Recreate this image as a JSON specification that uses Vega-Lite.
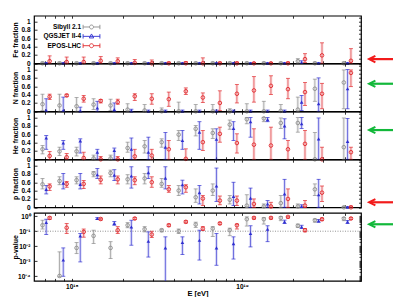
{
"$schema": "https://vega.github.io/schema/vega-lite/v6.json",
"background": "white",
"padding": {"left": 10, "top": 14.7, "right": 2, "bottom": 2},
"spacing": 0.2,
"bounds": "full",
"config": {
  "font": "Liberation Sans",
  "view": {"stroke": "black", "strokeWidth": 1.2},
  "axis": {"domain": false, "grid": false, "tickColor": "black", "tickWidth": 0.8, "labelFont": "Liberation Sans", "labelFontSize": 6.5, "labelFontWeight": "bold", "labelColor": "black", "titleFont": "Liberation Sans", "titleFontSize": 7, "titleFontWeight": "bold", "titleColor": "black"}
},
"data": {"values": [
{"m":"Sibyll 2.1","E":6.73e17,"fe":0,"feLo":0,"feHi":0.03,"n":0.17,"nLo":0.02,"nHi":0.41,"he":0.24,"heLo":0.13,"heHi":0.33,"p":0.55,"pLo":0.44,"pHi":0.69,"pv":0.25,"pvLo":0.14,"pvHi":0.54},
{"m":"Sibyll 2.1","E":8.472e17,"fe":0,"feLo":0,"feHi":0.03,"n":0.14,"nLo":0,"nHi":0.41,"he":0.19,"heLo":0.09,"heHi":0.29,"p":0.63,"pLo":0.54,"pHi":0.73,"pv":0.000105,"pvLo":0.00009,"pvHi":0.0042},
{"m":"Sibyll 2.1","E":1.067e18,"fe":0,"feLo":0,"feHi":0.03,"n":0.12,"nLo":0,"nHi":0.33,"he":0.19,"heLo":0.08,"heHi":0.29,"p":0.65,"pLo":0.56,"pHi":0.73,"pv":0.0077,"pvLo":0.0032,"pvHi":0.0177},
{"m":"Sibyll 2.1","E":1.343e18,"fe":0,"feLo":0,"feHi":0.03,"n":0.16,"nLo":0.04,"nHi":0.30,"he":0.02,"heLo":0,"heHi":0.1,"p":0.81,"pLo":0.73,"pHi":0.86,"pv":0.049,"pvLo":0.015,"pvHi":0.117},
{"m":"Sibyll 2.1","E":1.69e18,"fe":0,"feLo":0,"feHi":0.03,"n":0.14,"nLo":0.02,"nHi":0.29,"he":0.02,"heLo":0,"heHi":0.1,"p":0.82,"pLo":0.73,"pHi":0.89,"pv":0.0077,"pvLo":0.0015,"pvHi":0.02},
{"m":"Sibyll 2.1","E":2.128e18,"fe":0,"feLo":0,"feHi":0.03,"n":0.04,"nLo":0,"nHi":0.18,"he":0.27,"heLo":0.17,"heHi":0.41,"p":0.67,"pLo":0.56,"pHi":0.78,"pv":0.25,"pvLo":0.17,"pvHi":0.37},
{"m":"Sibyll 2.1","E":2.679e18,"fe":0,"feLo":0,"feHi":0.03,"n":0.02,"nLo":0,"nHi":0.16,"he":0.31,"heLo":0.15,"heHi":0.45,"p":0.69,"pLo":0.56,"pHi":0.81,"pv":0.136,"pvLo":0.09,"pvHi":0.2},
{"m":"Sibyll 2.1","E":3.373e18,"fe":0,"feLo":0,"feHi":0.03,"n":0,"nLo":0,"nHi":0.08,"he":0.41,"heLo":0.29,"heHi":0.49,"p":0.56,"pLo":0.48,"pHi":0.69,"pv":0.117,"pvLo":0.09,"pvHi":0.14},
{"m":"Sibyll 2.1","E":4.246e18,"fe":0,"feLo":0,"feHi":0.03,"n":0,"nLo":0,"nHi":0.22,"he":0.59,"heLo":0.45,"heHi":0.69,"p":0.40,"pLo":0.28,"pHi":0.52,"pv":0.1,"pvLo":0.07,"pvHi":0.14},
{"m":"Sibyll 2.1","E":5.346e18,"fe":0,"feLo":0,"feHi":0.03,"n":0,"nLo":0,"nHi":0.16,"he":0.73,"heLo":0.56,"heHi":0.81,"p":0.24,"pLo":0.12,"pHi":0.44,"pv":0.28,"pvLo":0.18,"pvHi":0.4},
{"m":"Sibyll 2.1","E":6.73e18,"fe":0,"feLo":0,"feHi":0.03,"n":0,"nLo":0,"nHi":0.16,"he":0.63,"heLo":0.5,"heHi":0.73,"p":0.4,"pLo":0.28,"pHi":0.56,"pv":0.15,"pvLo":0.045,"pvHi":0.2},
{"m":"Sibyll 2.1","E":8.472e18,"fe":0,"feLo":0,"feHi":0.03,"n":0,"nLo":0,"nHi":0.06,"he":0.83,"heLo":0.72,"heHi":0.94,"p":0.18,"pLo":0.08,"pHi":0.28,"pv":0.117,"pvLo":0.05,"pvHi":0.16},
{"m":"Sibyll 2.1","E":1.067e19,"fe":0,"feLo":0,"feHi":0.03,"n":0,"nLo":0,"nHi":0.18,"he":0.96,"heLo":0.85,"heHi":1,"p":0.04,"pLo":0,"pHi":0.3,"pv":0.63,"pvLo":0.22,"pvHi":0.9},
{"m":"Sibyll 2.1","E":1.343e19,"fe":0,"feLo":0,"feHi":0.03,"n":0,"nLo":0,"nHi":0.24,"he":0.98,"heLo":0.9,"heHi":1,"p":0.02,"pLo":0,"pHi":0.08,"pv":0.63,"pvLo":0.3,"pvHi":0.8},
{"m":"Sibyll 2.1","E":1.69e19,"fe":0,"feLo":0,"feHi":0.03,"n":0.01,"nLo":0,"nHi":0.16,"he":0.87,"heLo":0.74,"heHi":0.99,"p":0.1,"pLo":0,"pHi":0.28,"pv":0.77,"pvLo":0.5,"pvHi":0.95},
{"m":"Sibyll 2.1","E":2.128e19,"fe":0.05,"feLo":0,"feHi":0.11,"n":0.04,"nLo":0,"nHi":0.34,"he":0.87,"heLo":0.65,"heHi":1,"p":0.02,"pLo":0,"pHi":0.08,"pv":0.23,"pvLo":0.18,"pvHi":0.3},
{"m":"Sibyll 2.1","E":2.679e19,"fe":0,"feLo":0,"feHi":0.03,"n":0.54,"nLo":0.24,"nHi":0.77,"he":0,"heLo":0,"heHi":0.64,"p":0.43,"pLo":0.28,"pHi":0.56,"pv":0.54,"pvLo":0.4,"pvHi":0.65},
{"m":"Sibyll 2.1","E":3.963e19,"fe":0,"feLo":0,"feHi":0.03,"n":0.69,"nLo":0.06,"nHi":0.99,"he":0.29,"heLo":0,"heHi":0.99,"p":0,"pLo":0,"pHi":0.02,"pv":0.7,"pvLo":0.5,"pvHi":0.8},
{"m":"QGSJET II-4","E":7.079e17,"fe":0,"feLo":0,"feHi":0.02,"n":0.02,"nLo":0,"nHi":0.3,"he":0.51,"heLo":0.24,"heHi":0.57,"p":0.43,"pLo":0.32,"pHi":0.52,"pv":0.38,"pvLo":0.06,"pvHi":0.63},
{"m":"QGSJET II-4","E":8.913e17,"fe":0,"feLo":0,"feHi":0.02,"n":0.02,"nLo":0,"nHi":0.34,"he":0.39,"heLo":0.24,"heHi":0.45,"p":0.58,"pLo":0.44,"pHi":0.81,"pv":0.0012,"pvLo":0.0001,"pvHi":0.0077},
{"m":"QGSJET II-4","E":1.122e18,"fe":0,"feLo":0,"feHi":0.02,"n":0.01,"nLo":0,"nHi":0.1,"he":0.44,"heLo":0.15,"heHi":0.49,"p":0.55,"pLo":0.44,"pHi":0.81,"pv":0.049,"pvLo":0.0009,"pvHi":0.07},
{"m":"QGSJET II-4","E":1.413e18,"fe":0,"feLo":0,"feHi":0.02,"n":0.08,"nLo":0,"nHi":0.24,"he":0.17,"heLo":0,"heHi":0.24,"p":0.78,"pLo":0.69,"pHi":0.93,"pv":0.7,"pvLo":0.6,"pvHi":0.8},
{"m":"QGSJET II-4","E":1.778e18,"fe":0,"feLo":0,"feHi":0.02,"n":0.04,"nLo":0,"nHi":0.2,"he":0.21,"heLo":0,"heHi":0.27,"p":0.77,"pLo":0.64,"pHi":0.9,"pv":0.33,"pvLo":0.25,"pvHi":0.45},
{"m":"QGSJET II-4","E":2.239e18,"fe":0,"feLo":0,"feHi":0.02,"n":0.01,"nLo":0,"nHi":0.05,"he":0.24,"heLo":0,"heHi":0.51,"p":0.75,"pLo":0.46,"pHi":0.97,"pv":0.19,"pvLo":0.0117,"pvHi":0.54},
{"m":"QGSJET II-4","E":2.818e18,"fe":0,"feLo":0,"feHi":0.02,"n":0,"nLo":0,"nHi":0.03,"he":0.17,"heLo":0,"heHi":0.53,"p":0.83,"pLo":0.69,"pHi":0.97,"pv":0.0215,"pvLo":0.0019,"pvHi":0.09},
{"m":"QGSJET II-4","E":3.548e18,"fe":0,"feLo":0,"feHi":0.02,"n":0,"nLo":0,"nHi":0.03,"he":0.29,"heLo":0,"heHi":0.64,"p":0.7,"pLo":0.44,"pHi":0.97,"pv":0.0077,"pvLo":0.00001,"pvHi":0.042},
{"m":"QGSJET II-4","E":4.467e18,"fe":0,"feLo":0,"feHi":0.02,"n":0,"nLo":0,"nHi":0.03,"he":0.45,"heLo":0.24,"heHi":0.69,"p":0.54,"pLo":0.32,"pHi":0.65,"pv":0.0177,"pvLo":0.0028,"pvHi":0.042},
{"m":"QGSJET II-4","E":5.623e18,"fe":0,"feLo":0,"feHi":0.02,"n":0,"nLo":0,"nHi":0.03,"he":0.65,"heLo":0.24,"heHi":0.9,"p":0.35,"pLo":0.08,"pHi":0.52,"pv":0.025,"pvLo":0.0012,"pvHi":0.117},
{"m":"QGSJET II-4","E":7.079e18,"fe":0,"feLo":0,"feHi":0.02,"n":0,"nLo":0,"nHi":0.03,"he":0.48,"heLo":0,"heHi":0.73,"p":0.51,"pLo":0.14,"pHi":0.94,"pv":0.0077,"pvLo":0.00054,"pvHi":0.07},
{"m":"QGSJET II-4","E":8.913e18,"fe":0,"feLo":0,"feHi":0.02,"n":0,"nLo":0,"nHi":0.03,"he":0.74,"heLo":0.45,"heHi":0.9,"p":0.26,"pLo":0.04,"pHi":0.6,"pv":0.015,"pvLo":0.0014,"pvHi":0.042},
{"m":"QGSJET II-4","E":1.122e19,"fe":0,"feLo":0,"feHi":0.02,"n":0,"nLo":0,"nHi":0.03,"he":0.9,"heLo":0.53,"heHi":1,"p":0.22,"pLo":0,"pHi":0.46,"pv":0.07,"pvLo":0.009,"pvHi":0.23},
{"m":"QGSJET II-4","E":1.413e19,"fe":0,"feLo":0,"feHi":0.02,"n":0,"nLo":0,"nHi":0.03,"he":0.95,"heLo":0.9,"heHi":1,"p":0.08,"pLo":0,"pHi":0.16,"pv":0.136,"pvLo":0.02,"pvHi":0.23},
{"m":"QGSJET II-4","E":1.778e19,"fe":0,"feLo":0,"feHi":0.02,"n":0,"nLo":0,"nHi":0.03,"he":0.8,"heLo":0.49,"heHi":0.97,"p":0.32,"pLo":0,"pHi":0.67,"pv":0.42,"pvLo":0.33,"pvHi":0.55},
{"m":"QGSJET II-4","E":2.239e19,"fe":0.02,"feLo":0,"feHi":0.06,"n":0.22,"nLo":0.02,"nHi":0.38,"he":0.85,"heLo":0.74,"heHi":1,"p":0.02,"pLo":0,"pHi":0.06,"pv":0.19,"pvLo":0.15,"pvHi":0.25},
{"m":"QGSJET II-4","E":2.818e19,"fe":0,"feLo":0,"feHi":0.02,"n":0.18,"nLo":0,"nHi":0.8,"he":0.49,"heLo":0,"heHi":0.99,"p":0.3,"pLo":0,"pHi":0.67,"pv":0.49,"pvLo":0.4,"pvHi":0.6},
{"m":"QGSJET II-4","E":4.169e19,"fe":0,"feLo":0,"feHi":0.02,"n":0.54,"nLo":0.06,"nHi":1,"he":0.43,"heLo":0,"heHi":0.98,"p":0,"pLo":0,"pHi":0.02,"pv":0.42,"pvLo":0.33,"pvHi":0.52},
{"m":"EPOS-LHC","E":7.413e17,"fe":0.05,"feLo":0,"feHi":0.18,"n":0.35,"nLo":0.28,"nHi":0.41,"he":0.08,"heLo":0,"heHi":0.19,"p":0.5,"pLo":0.4,"pHi":0.56,"pv":0.77,"pvLo":0.6,"pvHi":0.9},
{"m":"EPOS-LHC","E":9.333e17,"fe":0.03,"feLo":0,"feHi":0.15,"n":0.38,"nLo":0.35,"nHi":0.41,"he":0.05,"heLo":0,"heHi":0.14,"p":0.56,"pLo":0.48,"pHi":0.62,"pv":0.17,"pvLo":0.07,"pvHi":0.33},
{"m":"EPOS-LHC","E":1.175e18,"fe":0.03,"feLo":0,"feHi":0.15,"n":0.3,"nLo":0.22,"nHi":0.38,"he":0.03,"heLo":0,"heHi":0.17,"p":0.56,"pLo":0.45,"pHi":0.64,"pv":0.09,"pvLo":0.04,"pvHi":0.14},
{"m":"EPOS-LHC","E":1.479e18,"fe":0.06,"feLo":0,"feHi":0.16,"n":0.25,"nLo":0.2,"nHi":0.28,"he":0,"heLo":0,"heHi":0.07,"p":0.66,"pLo":0.56,"pHi":0.75,"pv":0.65,"pvLo":0.55,"pvHi":0.75},
{"m":"EPOS-LHC","E":1.862e18,"fe":0.05,"feLo":0,"feHi":0.13,"n":0.22,"nLo":0.17,"nHi":0.29,"he":0,"heLo":0,"heHi":0.07,"p":0.67,"pLo":0.56,"pHi":0.75,"pv":0.117,"pvLo":0.07,"pvHi":0.2},
{"m":"EPOS-LHC","E":2.344e18,"fe":0.01,"feLo":0,"feHi":0.09,"n":0.36,"nLo":0.26,"nHi":0.42,"he":0.07,"heLo":0,"heHi":0.24,"p":0.65,"pLo":0.54,"pHi":0.73,"pv":0.7,"pvLo":0.6,"pvHi":0.8},
{"m":"EPOS-LHC","E":2.951e18,"fe":0,"feLo":0,"feHi":0.08,"n":0.3,"nLo":0.17,"nHi":0.42,"he":0.09,"heLo":0,"heHi":0.24,"p":0.6,"pLo":0.48,"pHi":0.73,"pv":0.06,"pvLo":0.038,"pvHi":0.1},
{"m":"EPOS-LHC","E":3.715e18,"fe":0,"feLo":0,"feHi":0.03,"n":0.29,"nLo":0.12,"nHi":0.46,"he":0.24,"heLo":0,"heHi":0.45,"p":0.43,"pLo":0.36,"pHi":0.52,"pv":0.25,"pvLo":0.2,"pvHi":0.3},
{"m":"EPOS-LHC","E":4.677e18,"fe":0,"feLo":0,"feHi":0.04,"n":0.48,"nLo":0.4,"nHi":0.56,"he":0.01,"heLo":0,"heHi":0.25,"p":0.48,"pLo":0.36,"pHi":0.54,"pv":0.42,"pvLo":0.35,"pvHi":0.5},
{"m":"EPOS-LHC","E":5.888e18,"fe":0,"feLo":0,"feHi":0.13,"n":0.33,"nLo":0.21,"nHi":0.44,"he":0.41,"heLo":0.21,"heHi":0.69,"p":0.21,"pLo":0.04,"pHi":0.28,"pv":0.15,"pvLo":0.11,"pvHi":0.2},
{"m":"EPOS-LHC","E":7.413e18,"fe":0,"feLo":0,"feHi":0.03,"n":0.2,"nLo":0.02,"nHi":0.49,"he":0.61,"heLo":0.41,"heHi":0.77,"p":0.16,"pLo":0.06,"pHi":0.27,"pv":0.33,"pvLo":0.27,"pvHi":0.4},
{"m":"EPOS-LHC","E":9.333e18,"fe":0,"feLo":0,"feHi":0.03,"n":0.42,"nLo":0.2,"nHi":0.64,"he":0.39,"heLo":0.15,"heHi":0.61,"p":0.16,"pLo":0.04,"pHi":0.27,"pv":0.25,"pvLo":0.14,"pvHi":0.3},
{"m":"EPOS-LHC","E":1.175e19,"fe":0,"feLo":0,"feHi":0.02,"n":0.5,"nLo":0.22,"nHi":0.83,"he":0.35,"heLo":0,"heHi":0.73,"p":0.08,"pLo":0,"pHi":0.2,"pv":0.77,"pvLo":0.65,"pvHi":0.9},
{"m":"EPOS-LHC","E":1.479e19,"fe":0,"feLo":0,"feHi":0.02,"n":0.61,"nLo":0.4,"nHi":0.85,"he":0.33,"heLo":0,"heHi":0.77,"p":0.02,"pLo":0,"pHi":0.12,"pv":0.77,"pvLo":0.65,"pvHi":0.9},
{"m":"EPOS-LHC","E":1.862e19,"fe":0,"feLo":0,"feHi":0.03,"n":0.53,"nLo":0.3,"nHi":0.79,"he":0.24,"heLo":0,"heHi":0.45,"p":0.2,"pLo":0,"pHi":0.44,"pv":0.9,"pvLo":0.75,"pvHi":1},
{"m":"EPOS-LHC","E":2.344e19,"fe":0.1,"feLo":0.02,"feHi":0.23,"n":0.46,"nLo":0.14,"nHi":0.69,"he":0.37,"heLo":0,"heHi":0.69,"p":0.04,"pLo":0,"pHi":0.16,"pv":0.117,"pvLo":0.09,"pvHi":0.15},
{"m":"EPOS-LHC","E":2.951e19,"fe":0.19,"feLo":0,"feHi":0.49,"n":0.42,"nLo":0.06,"nHi":0.67,"he":0,"heLo":0,"heHi":0.29,"p":0.35,"pLo":0.14,"pHi":0.51,"pv":0.63,"pvLo":0.5,"pvHi":0.75},
{"m":"EPOS-LHC","E":4.365e19,"fe":0.06,"feLo":0,"feHi":0.35,"n":0.92,"nLo":0.59,"nHi":0.99,"he":0.17,"heLo":0,"heHi":0.29,"p":0,"pLo":0,"pHi":0.03,"pv":0.7,"pvLo":0.6,"pvHi":0.8}
]},
"vconcat": [
{"spacing": 0, "bounds": "flush", "vconcat": [
{"width": 327, "height": 47.6, "layer": [
 {"mark": {"type": "rule", "strokeWidth": 3, "opacity": 0.15}, "encoding": {"x": {"field": "E", "type": "quantitative", "scale": {"type": "log", "domain": [6e17, 5e19], "nice": false}, "axis": {"orient": "bottom", "values": [7e17,8e17,9e17,1e18,2e18,3e18,4e18,5e18,6e18,7e18,8e18,9e18,1e19,2e19,3e19,4e19], "labels": false, "tickSize": -2.5, "title": null}}, "y": {"field": "feLo", "type": "quantitative", "scale": {"domain": [0, 1.14], "nice": false}, "axis": {"orient": "left", "values": [0,0.2,0.4,0.6,0.8,1], "format": "~g", "tickSize": -3, "labelPadding": 7, "title": "Fe fraction", "titleX": -16}}, "y2": {"field": "feHi"}, "color": {"field": "m", "type": "nominal", "scale": {"range": ["#e0282c", "#2f2fd0", "#8c8c8c"]}, "legend": null}}},
 {"mark": {"type": "rule", "strokeWidth": 0.8, "opacity": 0.8}, "encoding": {"x": {"field": "E", "type": "quantitative", "axis": {"orient": "top", "values": [7e17,8e17,9e17,1e18,2e18,3e18,4e18,5e18,6e18,7e18,8e18,9e18,1e19,2e19,3e19,4e19], "labels": false, "tickSize": -2.5, "title": null}}, "y": {"field": "feLo", "type": "quantitative", "axis": {"orient": "right", "values": [0,0.1,0.2,0.3,0.4,0.5,0.6,0.7,0.8,0.9,1,1.1], "labels": false, "tickSize": -2.5, "title": null}}, "y2": {"field": "feHi"}, "color": {"field": "m", "type": "nominal", "legend": null}}},
 {"mark": {"type": "tick", "orient": "horizontal", "size": 4, "thickness": 0.8, "opacity": 0.85}, "encoding": {"x": {"field": "E", "type": "quantitative", "axis": null}, "y": {"field": "feLo", "type": "quantitative", "axis": null}, "color": {"field": "m", "type": "nominal", "legend": null}}},
 {"mark": {"type": "tick", "orient": "horizontal", "size": 4, "thickness": 0.8, "opacity": 0.85}, "encoding": {"x": {"field": "E", "type": "quantitative", "axis": null}, "y": {"field": "feHi", "type": "quantitative", "axis": null}, "color": {"field": "m", "type": "nominal", "legend": null}}},
 {"transform": [{"filter": "datum.m == 'Sibyll 2.1'"}], "mark": {"type": "point", "shape": "circle", "filled": false, "size": 13, "strokeWidth": 0.9, "opacity": 1}, "encoding": {"x": {"field": "E", "type": "quantitative", "axis": null}, "y": {"field": "fe", "type": "quantitative", "axis": null}, "color": {"field": "m", "type": "nominal", "legend": null}}},
 {"transform": [{"filter": "datum.m == 'QGSJET II-4'"}], "mark": {"type": "point", "shape": "triangle-up", "filled": true, "size": 13, "opacity": 1}, "encoding": {"x": {"field": "E", "type": "quantitative", "axis": null}, "y": {"field": "fe", "type": "quantitative", "axis": null}, "color": {"field": "m", "type": "nominal", "legend": null}}},
 {"transform": [{"filter": "datum.m == 'EPOS-LHC'"}], "mark": {"type": "point", "shape": "circle", "filled": false, "size": 13, "strokeWidth": 0.9, "opacity": 1}, "encoding": {"x": {"field": "E", "type": "quantitative", "axis": null}, "y": {"field": "fe", "type": "quantitative", "axis": null}, "color": {"field": "m", "type": "nominal", "legend": null}}},
 {"transform": [{"filter": "datum.E < 0"}], "mark": {"type": "point", "filled": false}, "encoding": {"x": {"field": "E", "type": "quantitative", "axis": null}, "y": {"field": "fe", "type": "quantitative", "axis": null},
   "stroke": {"field": "m", "type": "nominal", "scale": {"domain": ["Sibyll 2.1", "QGSJET II-4", "EPOS-LHC"], "range": ["#8c8c8c", "#2f2fd0", "#e0282c"]}, "legend": {"title": null, "orient": "none", "legendX": 53, "legendY": 6.8, "labelAlign": "right", "labelOffset": -15, "symbolSize": 64, "symbolStrokeWidth": 0.9, "symbolOpacity": 1, "labelFont": "Liberation Sans", "labelFontSize": 6.5, "labelFontWeight": "bold", "labelColor": "black", "rowPadding": 0.35}},
   "shape": {"field": "m", "type": "nominal", "scale": {"domain": ["Sibyll 2.1", "QGSJET II-4", "EPOS-LHC"], "range": ["M -2.1 -0.55 L -2.1 0.55 M -2.1 0 L -0.5 0 M 0.5 0 L 2.1 0 M 2.1 -0.55 L 2.1 0.55 M 0.5 0 A 0.5 0.5 0 1 1 -0.5 0 A 0.5 0.5 0 1 1 0.5 0", "M -2.1 -0.55 L -2.1 0.55 M -2.1 0 L 2.1 0 M 2.1 -0.55 L 2.1 0.55 M 0 -0.6 L 0.55 0.4 L -0.55 0.4 Z", "M -2.1 -0.55 L -2.1 0.55 M -2.1 0 L -0.5 0 M 0.5 0 L 2.1 0 M 2.1 -0.55 L 2.1 0.55 M 0.5 0 A 0.5 0.5 0 1 1 -0.5 0 A 0.5 0.5 0 1 1 0.5 0"]}, "legend": {"title": null, "orient": "none", "legendX": 53, "legendY": 6.8, "labelAlign": "right", "labelOffset": -15, "symbolSize": 64, "symbolStrokeWidth": 0.9, "symbolOpacity": 1, "labelFont": "Liberation Sans", "labelFontSize": 6.5, "labelFontWeight": "bold", "labelColor": "black", "rowPadding": 0.35}}}},
 {"data": {"values": [{}]}, "mark": {"type": "rule", "strokeWidth": 2.2, "color": "#f21b1b"}, "encoding": {"x": {"datum": 5.65e19, "type": "quantitative", "axis": null}, "x2": {"datum": 7.71e19}, "y": {"datum": 0.1, "type": "quantitative", "axis": null}}},
 {"data": {"values": [{}]}, "mark": {"type": "point", "shape": "M 1 -1 L -1 0 L 1 1", "filled": false, "strokeWidth": 2, "size": 40, "color": "#f21b1b", "opacity": 1}, "encoding": {"x": {"datum": 5.82e19, "type": "quantitative", "axis": null}, "y": {"datum": 0.1, "type": "quantitative", "axis": null}}}
]},
{"width": 327, "height": 47.6, "layer": [
 {"mark": {"type": "rule", "strokeWidth": 3, "opacity": 0.15}, "encoding": {"x": {"field": "E", "type": "quantitative", "scale": {"type": "log", "domain": [6e17, 5e19], "nice": false}, "axis": {"orient": "bottom", "values": [7e17,8e17,9e17,1e18,2e18,3e18,4e18,5e18,6e18,7e18,8e18,9e18,1e19,2e19,3e19,4e19], "labels": false, "tickSize": -2.5, "title": null}}, "y": {"field": "nLo", "type": "quantitative", "scale": {"domain": [0, 1.14], "nice": false}, "axis": {"orient": "left", "values": [0,0.2,0.4,0.6,0.8,1], "format": "~g", "tickSize": -3, "labelPadding": 7, "title": "N fraction", "titleX": -16}}, "y2": {"field": "nHi"}, "color": {"field": "m", "type": "nominal", "scale": {"range": ["#e0282c", "#2f2fd0", "#8c8c8c"]}, "legend": null}}},
 {"mark": {"type": "rule", "strokeWidth": 0.8, "opacity": 0.8}, "encoding": {"x": {"field": "E", "type": "quantitative", "axis": {"orient": "top", "values": [7e17,8e17,9e17,1e18,2e18,3e18,4e18,5e18,6e18,7e18,8e18,9e18,1e19,2e19,3e19,4e19], "labels": false, "tickSize": -2.5, "title": null}}, "y": {"field": "nLo", "type": "quantitative", "axis": {"orient": "right", "values": [0,0.1,0.2,0.3,0.4,0.5,0.6,0.7,0.8,0.9,1,1.1], "labels": false, "tickSize": -2.5, "title": null}}, "y2": {"field": "nHi"}, "color": {"field": "m", "type": "nominal", "legend": null}}},
 {"mark": {"type": "tick", "orient": "horizontal", "size": 4, "thickness": 0.8, "opacity": 0.85}, "encoding": {"x": {"field": "E", "type": "quantitative", "axis": null}, "y": {"field": "nLo", "type": "quantitative", "axis": null}, "color": {"field": "m", "type": "nominal", "legend": null}}},
 {"mark": {"type": "tick", "orient": "horizontal", "size": 4, "thickness": 0.8, "opacity": 0.85}, "encoding": {"x": {"field": "E", "type": "quantitative", "axis": null}, "y": {"field": "nHi", "type": "quantitative", "axis": null}, "color": {"field": "m", "type": "nominal", "legend": null}}},
 {"transform": [{"filter": "datum.m == 'Sibyll 2.1'"}], "mark": {"type": "point", "shape": "circle", "filled": false, "size": 13, "strokeWidth": 0.9, "opacity": 1}, "encoding": {"x": {"field": "E", "type": "quantitative", "axis": null}, "y": {"field": "n", "type": "quantitative", "axis": null}, "color": {"field": "m", "type": "nominal", "legend": null}}},
 {"transform": [{"filter": "datum.m == 'QGSJET II-4'"}], "mark": {"type": "point", "shape": "triangle-up", "filled": true, "size": 13, "opacity": 1}, "encoding": {"x": {"field": "E", "type": "quantitative", "axis": null}, "y": {"field": "n", "type": "quantitative", "axis": null}, "color": {"field": "m", "type": "nominal", "legend": null}}},
 {"transform": [{"filter": "datum.m == 'EPOS-LHC'"}], "mark": {"type": "point", "shape": "circle", "filled": false, "size": 13, "strokeWidth": 0.9, "opacity": 1}, "encoding": {"x": {"field": "E", "type": "quantitative", "axis": null}, "y": {"field": "n", "type": "quantitative", "axis": null}, "color": {"field": "m", "type": "nominal", "legend": null}}},
 {"data": {"values": [{}]}, "mark": {"type": "rule", "strokeWidth": 2.2, "color": "#12b83a"}, "encoding": {"x": {"datum": 5.65e19, "type": "quantitative", "axis": null}, "x2": {"datum": 7.71e19}, "y": {"datum": 0.66, "type": "quantitative", "axis": null}}},
 {"data": {"values": [{}]}, "mark": {"type": "point", "shape": "M 1 -1 L -1 0 L 1 1", "filled": false, "strokeWidth": 2, "size": 40, "color": "#12b83a", "opacity": 1}, "encoding": {"x": {"datum": 5.82e19, "type": "quantitative", "axis": null}, "y": {"datum": 0.66, "type": "quantitative", "axis": null}}}
]},
{"width": 327, "height": 47.6, "layer": [
 {"mark": {"type": "rule", "strokeWidth": 3, "opacity": 0.15}, "encoding": {"x": {"field": "E", "type": "quantitative", "scale": {"type": "log", "domain": [6e17, 5e19], "nice": false}, "axis": {"orient": "bottom", "values": [7e17,8e17,9e17,1e18,2e18,3e18,4e18,5e18,6e18,7e18,8e18,9e18,1e19,2e19,3e19,4e19], "labels": false, "tickSize": -2.5, "title": null}}, "y": {"field": "heLo", "type": "quantitative", "scale": {"domain": [0, 1.14], "nice": false}, "axis": {"orient": "left", "values": [0,0.2,0.4,0.6,0.8,1], "format": "~g", "tickSize": -3, "labelPadding": 7, "title": "He fraction", "titleX": -16}}, "y2": {"field": "heHi"}, "color": {"field": "m", "type": "nominal", "scale": {"range": ["#e0282c", "#2f2fd0", "#8c8c8c"]}, "legend": null}}},
 {"mark": {"type": "rule", "strokeWidth": 0.8, "opacity": 0.8}, "encoding": {"x": {"field": "E", "type": "quantitative", "axis": {"orient": "top", "values": [7e17,8e17,9e17,1e18,2e18,3e18,4e18,5e18,6e18,7e18,8e18,9e18,1e19,2e19,3e19,4e19], "labels": false, "tickSize": -2.5, "title": null}}, "y": {"field": "heLo", "type": "quantitative", "axis": {"orient": "right", "values": [0,0.1,0.2,0.3,0.4,0.5,0.6,0.7,0.8,0.9,1,1.1], "labels": false, "tickSize": -2.5, "title": null}}, "y2": {"field": "heHi"}, "color": {"field": "m", "type": "nominal", "legend": null}}},
 {"mark": {"type": "tick", "orient": "horizontal", "size": 4, "thickness": 0.8, "opacity": 0.85}, "encoding": {"x": {"field": "E", "type": "quantitative", "axis": null}, "y": {"field": "heLo", "type": "quantitative", "axis": null}, "color": {"field": "m", "type": "nominal", "legend": null}}},
 {"mark": {"type": "tick", "orient": "horizontal", "size": 4, "thickness": 0.8, "opacity": 0.85}, "encoding": {"x": {"field": "E", "type": "quantitative", "axis": null}, "y": {"field": "heHi", "type": "quantitative", "axis": null}, "color": {"field": "m", "type": "nominal", "legend": null}}},
 {"transform": [{"filter": "datum.m == 'Sibyll 2.1'"}], "mark": {"type": "point", "shape": "circle", "filled": false, "size": 13, "strokeWidth": 0.9, "opacity": 1}, "encoding": {"x": {"field": "E", "type": "quantitative", "axis": null}, "y": {"field": "he", "type": "quantitative", "axis": null}, "color": {"field": "m", "type": "nominal", "legend": null}}},
 {"transform": [{"filter": "datum.m == 'QGSJET II-4'"}], "mark": {"type": "point", "shape": "triangle-up", "filled": true, "size": 13, "opacity": 1}, "encoding": {"x": {"field": "E", "type": "quantitative", "axis": null}, "y": {"field": "he", "type": "quantitative", "axis": null}, "color": {"field": "m", "type": "nominal", "legend": null}}},
 {"transform": [{"filter": "datum.m == 'EPOS-LHC'"}], "mark": {"type": "point", "shape": "circle", "filled": false, "size": 13, "strokeWidth": 0.9, "opacity": 1}, "encoding": {"x": {"field": "E", "type": "quantitative", "axis": null}, "y": {"field": "he", "type": "quantitative", "axis": null}, "color": {"field": "m", "type": "nominal", "legend": null}}},
 {"data": {"values": [{}]}, "mark": {"type": "rule", "strokeWidth": 2.2, "color": "#12b83a"}, "encoding": {"x": {"datum": 5.65e19, "type": "quantitative", "axis": null}, "x2": {"datum": 7.71e19}, "y": {"datum": 0.7, "type": "quantitative", "axis": null}}},
 {"data": {"values": [{}]}, "mark": {"type": "point", "shape": "M 1 -1 L -1 0 L 1 1", "filled": false, "strokeWidth": 2, "size": 40, "color": "#12b83a", "opacity": 1}, "encoding": {"x": {"datum": 5.82e19, "type": "quantitative", "axis": null}, "y": {"datum": 0.7, "type": "quantitative", "axis": null}}}
]},
{"width": 327, "height": 47.6, "layer": [
 {"mark": {"type": "rule", "strokeWidth": 3, "opacity": 0.15}, "encoding": {"x": {"field": "E", "type": "quantitative", "scale": {"type": "log", "domain": [6e17, 5e19], "nice": false}, "axis": {"orient": "bottom", "values": [7e17,8e17,9e17,1e18,2e18,3e18,4e18,5e18,6e18,7e18,8e18,9e18,1e19,2e19,3e19,4e19], "labels": false, "tickSize": -2.5, "title": null}}, "y": {"field": "pLo", "type": "quantitative", "scale": {"domain": [0, 1.14], "nice": false}, "axis": {"orient": "left", "values": [0,0.2,0.4,0.6,0.8,1], "format": "~g", "tickSize": -3, "labelPadding": 7, "title": "p fraction", "titleX": -16}}, "y2": {"field": "pHi"}, "color": {"field": "m", "type": "nominal", "scale": {"range": ["#e0282c", "#2f2fd0", "#8c8c8c"]}, "legend": null}}},
 {"mark": {"type": "rule", "strokeWidth": 0.8, "opacity": 0.8}, "encoding": {"x": {"field": "E", "type": "quantitative", "axis": {"orient": "top", "values": [7e17,8e17,9e17,1e18,2e18,3e18,4e18,5e18,6e18,7e18,8e18,9e18,1e19,2e19,3e19,4e19], "labels": false, "tickSize": -2.5, "title": null}}, "y": {"field": "pLo", "type": "quantitative", "axis": {"orient": "right", "values": [0,0.1,0.2,0.3,0.4,0.5,0.6,0.7,0.8,0.9,1,1.1], "labels": false, "tickSize": -2.5, "title": null}}, "y2": {"field": "pHi"}, "color": {"field": "m", "type": "nominal", "legend": null}}},
 {"mark": {"type": "tick", "orient": "horizontal", "size": 4, "thickness": 0.8, "opacity": 0.85}, "encoding": {"x": {"field": "E", "type": "quantitative", "axis": null}, "y": {"field": "pLo", "type": "quantitative", "axis": null}, "color": {"field": "m", "type": "nominal", "legend": null}}},
 {"mark": {"type": "tick", "orient": "horizontal", "size": 4, "thickness": 0.8, "opacity": 0.85}, "encoding": {"x": {"field": "E", "type": "quantitative", "axis": null}, "y": {"field": "pHi", "type": "quantitative", "axis": null}, "color": {"field": "m", "type": "nominal", "legend": null}}},
 {"transform": [{"filter": "datum.m == 'Sibyll 2.1'"}], "mark": {"type": "point", "shape": "circle", "filled": false, "size": 13, "strokeWidth": 0.9, "opacity": 1}, "encoding": {"x": {"field": "E", "type": "quantitative", "axis": null}, "y": {"field": "p", "type": "quantitative", "axis": null}, "color": {"field": "m", "type": "nominal", "legend": null}}},
 {"transform": [{"filter": "datum.m == 'QGSJET II-4'"}], "mark": {"type": "point", "shape": "triangle-up", "filled": true, "size": 13, "opacity": 1}, "encoding": {"x": {"field": "E", "type": "quantitative", "axis": null}, "y": {"field": "p", "type": "quantitative", "axis": null}, "color": {"field": "m", "type": "nominal", "legend": null}}},
 {"transform": [{"filter": "datum.m == 'EPOS-LHC'"}], "mark": {"type": "point", "shape": "circle", "filled": false, "size": 13, "strokeWidth": 0.9, "opacity": 1}, "encoding": {"x": {"field": "E", "type": "quantitative", "axis": null}, "y": {"field": "p", "type": "quantitative", "axis": null}, "color": {"field": "m", "type": "nominal", "legend": null}}},
 {"data": {"values": [{}]}, "mark": {"type": "rule", "strokeWidth": 2.2, "color": "#f21b1b"}, "encoding": {"x": {"datum": 5.65e19, "type": "quantitative", "axis": null}, "x2": {"datum": 7.71e19}, "y": {"datum": 0.12, "type": "quantitative", "axis": null}}},
 {"data": {"values": [{}]}, "mark": {"type": "point", "shape": "M 1 -1 L -1 0 L 1 1", "filled": false, "strokeWidth": 2, "size": 40, "color": "#f21b1b", "opacity": 1}, "encoding": {"x": {"datum": 5.82e19, "type": "quantitative", "axis": null}, "y": {"datum": 0.12, "type": "quantitative", "axis": null}}}
]}
]},
{"width": 327, "height": 68, "layer": [
 {"data": {"values": [{}]}, "mark": {"type": "rule", "strokeDash": [1, 1.5], "color": "#777777", "strokeWidth": 0.8}, "encoding": {"y": {"datum": 0.1, "type": "quantitative", "scale": {"type": "log", "domain": [4.9e-5, 1.66], "nice": false}, "axis": null}}},
 {"mark": {"type": "rule", "strokeWidth": 3, "opacity": 0.15, "clip": true}, "encoding": {"x": {"field": "E", "type": "quantitative", "scale": {"type": "log", "domain": [6e17, 5e19], "nice": false}, "axis": {"orient": "bottom", "values": [7e17,8e17,9e17,1e18,2e18,3e18,4e18,5e18,6e18,7e18,8e18,9e18,1e19,2e19,3e19,4e19], "labelExpr": "datum.value == 1e18 ? '10¹⁸' : datum.value == 1e19 ? '10¹⁹' : ''", "tickSize": -2.5, "labelPadding": 5, "title": "E [eV]", "titleFontSize": 7.5, "titlePadding": 0}}, "y": {"field": "pvLo", "type": "quantitative", "scale": {"type": "log", "domain": [4.9e-5, 1.66], "nice": false}, "axis": {"orient": "left", "values": [0.0001,0.001,0.01,0.1,1], "labelExpr": "datum.value >= 0.5 ? '10⁰' : datum.value >= 0.05 ? '10⁻¹' : datum.value >= 0.005 ? '10⁻²' : datum.value >= 0.0005 ? '10⁻³' : '10⁻⁴'", "tickSize": -3, "labelPadding": 7, "title": "p-value", "titleX": -16}}, "y2": {"field": "pvHi"}, "color": {"field": "m", "type": "nominal", "scale": {"range": ["#e0282c", "#2f2fd0", "#8c8c8c"]}, "legend": null}}},
 {"mark": {"type": "rule", "strokeWidth": 0.8, "opacity": 0.8, "clip": true}, "encoding": {"x": {"field": "E", "type": "quantitative", "axis": {"orient": "top", "values": [7e17,8e17,9e17,1e18,2e18,3e18,4e18,5e18,6e18,7e18,8e18,9e18,1e19,2e19,3e19,4e19], "labels": false, "tickSize": -2.5, "title": null}}, "y": {"field": "pvLo", "type": "quantitative", "axis": {"orient": "right", "values": [0.00005,0.00006,0.00007,0.00008,0.00009,0.0001,0.0002,0.0003,0.0004,0.0005,0.0006,0.0007,0.0008,0.0009,0.001,0.002,0.003,0.004,0.005,0.006,0.007,0.008,0.009,0.01,0.02,0.03,0.04,0.05,0.06,0.07,0.08,0.09,0.1,0.2,0.3,0.4,0.5,0.6,0.7,0.8,0.9,1], "labels": false, "tickSize": -2, "title": null}}, "y2": {"field": "pvHi"}, "color": {"field": "m", "type": "nominal", "legend": null}}},
 {"mark": {"type": "tick", "orient": "horizontal", "size": 4, "thickness": 0.8, "opacity": 0.85, "clip": true}, "encoding": {"x": {"field": "E", "type": "quantitative", "axis": null}, "y": {"field": "pvLo", "type": "quantitative", "axis": null}, "color": {"field": "m", "type": "nominal", "legend": null}}},
 {"mark": {"type": "tick", "orient": "horizontal", "size": 4, "thickness": 0.8, "opacity": 0.85, "clip": true}, "encoding": {"x": {"field": "E", "type": "quantitative", "axis": null}, "y": {"field": "pvHi", "type": "quantitative", "axis": null}, "color": {"field": "m", "type": "nominal", "legend": null}}},
 {"transform": [{"filter": "datum.m == 'Sibyll 2.1'"}], "mark": {"type": "point", "shape": "circle", "filled": false, "size": 13, "strokeWidth": 0.9, "opacity": 1}, "encoding": {"x": {"field": "E", "type": "quantitative", "axis": null}, "y": {"field": "pv", "type": "quantitative", "axis": null}, "color": {"field": "m", "type": "nominal", "legend": null}}},
 {"transform": [{"filter": "datum.m == 'QGSJET II-4'"}], "mark": {"type": "point", "shape": "triangle-up", "filled": true, "size": 13, "opacity": 1}, "encoding": {"x": {"field": "E", "type": "quantitative", "axis": null}, "y": {"field": "pv", "type": "quantitative", "axis": null}, "color": {"field": "m", "type": "nominal", "legend": null}}},
 {"transform": [{"filter": "datum.m == 'EPOS-LHC'"}], "mark": {"type": "point", "shape": "circle", "filled": false, "size": 13, "strokeWidth": 0.9, "opacity": 1}, "encoding": {"x": {"field": "E", "type": "quantitative", "axis": null}, "y": {"field": "pv", "type": "quantitative", "axis": null}, "color": {"field": "m", "type": "nominal", "legend": null}}},
 {"data": {"values": [{}]}, "mark": {"type": "rule", "strokeWidth": 2.2, "color": "#12b83a"}, "encoding": {"x": {"datum": 5.65e19, "type": "quantitative", "axis": null}, "x2": {"datum": 7.71e19}, "y": {"datum": 0.29, "type": "quantitative", "axis": null}}},
 {"data": {"values": [{}]}, "mark": {"type": "point", "shape": "M 1 -1 L -1 0 L 1 1", "filled": false, "strokeWidth": 2, "size": 40, "color": "#12b83a", "opacity": 1}, "encoding": {"x": {"datum": 5.82e19, "type": "quantitative", "axis": null}, "y": {"datum": 0.29, "type": "quantitative", "axis": null}}}
]}
]
}
